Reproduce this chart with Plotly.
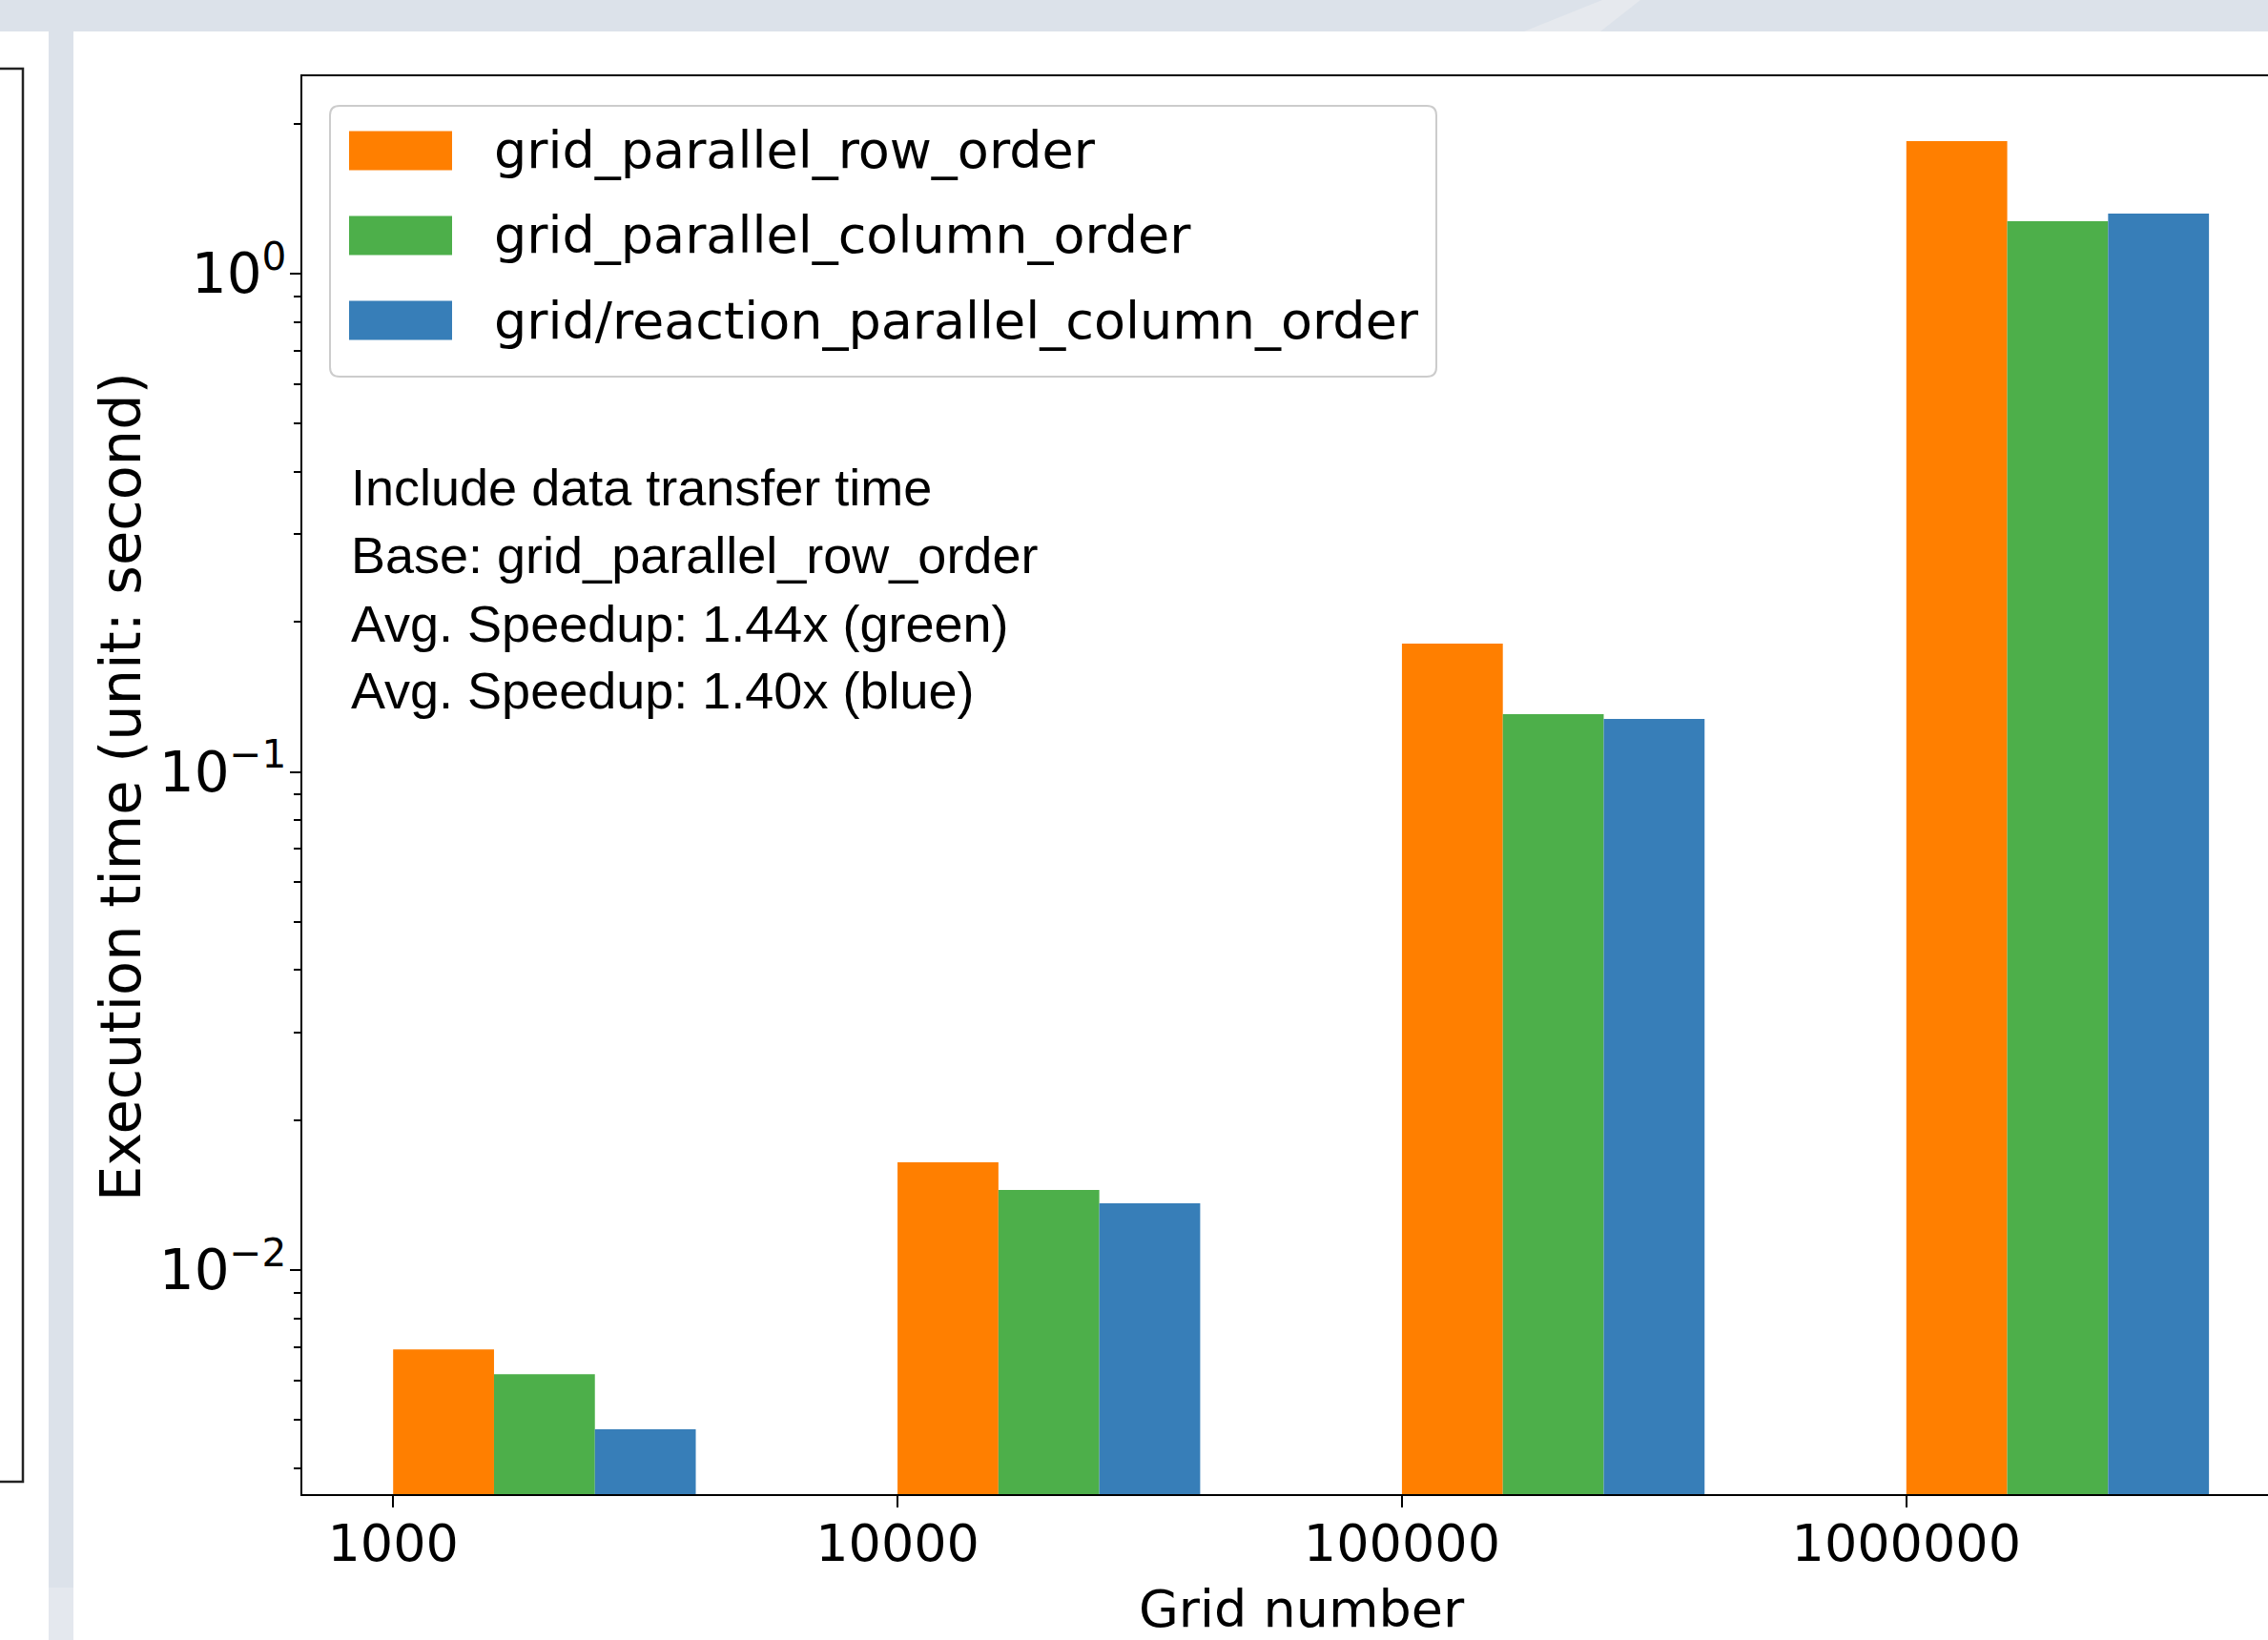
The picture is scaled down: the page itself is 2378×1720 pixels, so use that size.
import plotly.graph_objects as go

# ---------------- data ----------------
grid_numbers = ["1000", "10000", "100000", "1000000"]
series_names = ["grid_parallel_row_order", "grid_parallel_column_order",
                "grid/reaction_parallel_column_order"]
row_order = [0.00693, 0.01645, 0.1808, 1.845]
column_order = [0.00618, 0.01448, 0.1306, 1.274]
reaction_column_order = [0.00479, 0.01361, 0.1277, 1.320]
series_colors = ["#ff7f00", "#4daf4a", "#377eb8"]
note_lines = ["Include data transfer time",
              "Base: grid_parallel_row_order",
              "Avg. Speedup: 1.44x (green)",
              "Avg. Speedup: 1.40x (blue)"]
y_tick_vals = [0.01, 0.1, 1]
y_tick_text = ["10<sup>\u22122</sup>", "10<sup>\u22121</sup>", "10<sup>0</sup>"]

# ---------------- layout geometry (pixels) ----------------
W, H = 2378, 1720
L, R, T, B = 317, W, 80, 1567   # plot area edges in pixels


def px(x):
    return (x - L) / (R - L)


def py(y):
    return (B - y) / (B - T)


DEJAVU = "DejaVu Sans"
ARIAL = "Liberation Sans, Arial, Helvetica"

fig = go.Figure()
all_series = [row_order, column_order, reaction_column_order]
for i, (name, vals, col) in enumerate(zip(series_names, all_series, series_colors)):
    fig.add_trace(go.Bar(
        x=grid_numbers, y=vals, name=name,
        marker=dict(color=col, line=dict(width=0)),
        width=0.2, offset=0.2 * i, showlegend=False,
    ))

minor_vals = [m * 10 ** e for e in (-3, -2, -1, 0) for m in range(2, 10)]

fig.update_layout(
    width=W, height=H,
    margin=dict(l=L, r=W - R, t=T, b=H - B, autoexpand=False),
    paper_bgcolor="white", plot_bgcolor="white",
    barmode="overlay",
    font=dict(family=DEJAVU, color="black", size=54),
    xaxis=dict(
        type="category", range=[-0.18, 3.717],
        showline=True, linecolor="black", linewidth=2, mirror=True,
        ticks="outside", ticklen=12, tickwidth=1.5, tickcolor="black",
        showgrid=False, zeroline=False, ticklabelstandoff=-9,
        tickfont=dict(family=DEJAVU, size=54),
    ),
    yaxis=dict(
        type="log", range=[-2.4498, 0.3962],
        showline=True, linecolor="black", linewidth=2, mirror=False,
        ticks="outside", ticklen=11, tickwidth=2, tickcolor="black",
        tickvals=y_tick_vals, ticktext=y_tick_text,
        showgrid=False, zeroline=False, ticklabelstandoff=-8,
        tickfont=dict(family=DEJAVU, size=58),
        minor=dict(tickvals=minor_vals, ticks="outside", ticklen=7,
                   tickwidth=1.5, tickcolor="black", showgrid=False),
    ),
)

shapes = []
band = "#dce2ea"
# decorative page elements around the cropped figure
shapes.append(dict(type="rect", xref="paper", yref="paper",
                   x0=px(0), x1=px(W), y0=py(0), y1=py(33),
                   fillcolor=band, line=dict(width=0), layer="above"))
shapes.append(dict(type="path", xref="paper", yref="paper",
                   path="M {} {} L {} {} L {} {} L {} {} Z".format(
                       px(1598), py(33), px(1680), py(0), px(1720), py(0), px(1678), py(33)),
                   fillcolor="#e6e9ee", line=dict(width=0), layer="above"))
shapes.append(dict(type="rect", xref="paper", yref="paper",
                   x0=px(51), x1=px(77), y0=py(33), y1=py(H),
                   fillcolor=band, line=dict(width=0), layer="above"))
shapes.append(dict(type="rect", xref="paper", yref="paper",
                   x0=px(51), x1=px(77), y0=py(1665), y1=py(H),
                   fillcolor="#e4e8ee", line=dict(width=0), layer="above"))
# frame of the neighbouring panel
shapes.append(dict(type="path", xref="paper", yref="paper",
                   path="M {} {} L {} {} L {} {} L {} {}".format(
                       px(-2), py(72), px(24), py(72), px(24), py(1554), px(-2), py(1554)),
                   line=dict(color="#222222", width=2.5), layer="above"))

# legend box (rounded)
lx0, lx1, ly0, ly1, r = 346, 1506, 111, 395, 10
path = ("M {a} {b} L {c} {b} Q {d} {b} {d} {e} L {d} {f} Q {d} {g} {c} {g} "
        "L {a} {g} Q {h} {g} {h} {f} L {h} {e} Q {h} {b} {a} {b} Z").format(
    a=px(lx0 + r), b=py(ly0), c=px(lx1 - r), d=px(lx1), e=py(ly0 + r),
    f=py(ly1 - r), g=py(ly1), h=px(lx0))
shapes.append(dict(type="path", xref="paper", yref="paper", path=path,
                   fillcolor="white", line=dict(color="#cccccc", width=2), layer="above"))

row_centers = [158, 247, 336]
annotations = []
for name, col, yc in zip(series_names, series_colors, row_centers):
    shapes.append(dict(type="rect", xref="paper", yref="paper",
                       x0=px(366), x1=px(474), y0=py(yc - 20.5), y1=py(yc + 20.5),
                       fillcolor=col, line=dict(width=0), layer="above"))
    annotations.append(dict(xref="paper", yref="paper", x=px(516), y=py(yc),
                            xanchor="left", yanchor="middle", showarrow=False,
                            text=name, font=dict(family=DEJAVU, size=54, color="black")))

for line, yc in zip(note_lines, [507, 578, 650, 720]):
    annotations.append(dict(xref="paper", yref="paper", x=px(366), y=py(yc + 4),
                            xanchor="left", yanchor="middle", showarrow=False,
                            text=line, font=dict(family=ARIAL, size=54, color="black")))

# axis titles
annotations.append(dict(xref="paper", yref="paper", x=px(126), y=py(825),
                        xanchor="center", yanchor="middle", showarrow=False,
                        textangle=-90, text="Execution time (unit: second)",
                        font=dict(family=DEJAVU, size=59, color="black")))
annotations.append(dict(xref="paper", yref="paper", x=px(1365), y=py(1687),
                        xanchor="center", yanchor="middle", showarrow=False,
                        text="Grid number",
                        font=dict(family=DEJAVU, size=54, color="black")))

fig.update_layout(shapes=shapes, annotations=annotations)
fig.write_html("out.html", post_script="document.body.style.margin='0px';",
               config={"displayModeBar": False})
